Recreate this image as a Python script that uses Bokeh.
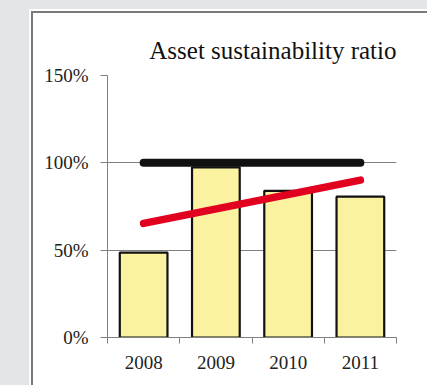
from bokeh.plotting import figure
from bokeh.models import Range1d, FixedTicker, PrintfTickFormatter, ColumnDataSource
from bokeh.embed import file_html
from bokeh.resources import INLINE

years = ["2008", "2009", "2010", "2011"]
ratio = [48.6, 97.4, 84.0, 80.6]
target = [100, 100, 100, 100]
trend_years = ["2008", "2011"]
trend = [65.3, 90.1]
y_ticks = [0, 50, 100, 150]

FONT = "Liberation Serif"
GRID = "#7f7f7f"
PAGE_BG = "#e3e6e9"
PANEL_LINE = "#7a7a7a"

pos = {y: i + 0.5 for i, y in enumerate(years)}

p = figure(width=427, height=385, output_backend="svg", toolbar_location=None,
           x_range=Range1d(0, len(years)), y_range=Range1d(0, 150),
           min_border_left=107, min_border_right=31, min_border_top=75, min_border_bottom=48,
           border_fill_color=None, background_fill_color="white")
p.outline_line_color = None

# page background, white panel and its grey border drawn as CSS behind the transparent canvas
p.styles = {
    "background": (
        f"linear-gradient({PANEL_LINE},{PANEL_LINE}) 31px 11px / 2px 100% no-repeat, "
        f"linear-gradient({PANEL_LINE},{PANEL_LINE}) 31px 11px / 100% 2px no-repeat, "
        "linear-gradient(#ffffff,#ffffff) 29px 9px / 100% 100% no-repeat, "
        f"{PAGE_BG}"
    )
}

src = ColumnDataSource(dict(x=[pos[y] for y in years], top=ratio))
p.vbar(x="x", top="top", bottom=0, width=0.66, source=src,
       fill_color="#fbf2a1", line_color="#111111", line_width=2.2)

p.line(x=[pos[y] for y in years], y=target, line_color="#111111", line_width=8, line_cap="round")
p.line(x=[pos[y] for y in trend_years], y=trend, line_color="#e1001f", line_width=7.5, line_cap="round")

# y axis
ya = p.yaxis[0]
ya.ticker = FixedTicker(ticks=y_ticks)
ya.formatter = PrintfTickFormatter(format="%d%%")
ya.axis_line_color = GRID
ya.major_tick_line_color = GRID
ya.major_tick_out = 7
ya.major_tick_in = 0
ya.minor_tick_line_color = None
ya.major_label_text_font = FONT
ya.major_label_text_font_size = "19px"
ya.major_label_text_color = "#222222"
ya.major_label_standoff = 12

# x axis
xa = p.xaxis[0]
xa.ticker = FixedTicker(ticks=[pos[y] for y in years], minor_ticks=list(range(len(years) + 1)))
xa.major_label_overrides = {pos[y]: y for y in years}
xa.axis_line_color = GRID
xa.major_tick_line_color = None
xa.major_tick_out = 0
xa.minor_tick_line_color = GRID
xa.minor_tick_out = 6
xa.minor_tick_in = 0
xa.major_label_text_font = FONT
xa.major_label_text_font_size = "19px"
xa.major_label_text_color = "#222222"
xa.major_label_standoff = 12

p.xgrid.grid_line_color = None
p.ygrid.ticker = FixedTicker(ticks=y_ticks)
p.ygrid.grid_line_color = GRID
p.ygrid.grid_line_width = 1

p.title.text = "Asset sustainability ratio"
p.title.align = "right"
p.title.text_font = FONT
p.title.text_font_size = "25px"
p.title.text_font_style = "normal"
p.title.text_color = "#111111"
p.title.standoff = 24

open("out.html", "w").write(file_html(p, INLINE))
